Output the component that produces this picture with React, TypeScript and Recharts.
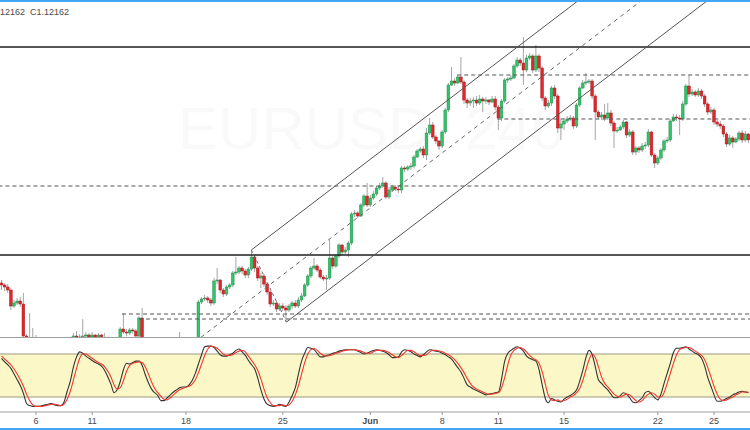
import { ComposedChart, Bar, Line, XAxis, YAxis, ReferenceLine, ReferenceArea } from "recharts";

// EURUSD 4h candles, open = previous close
const firstOpen = 1.093;

const closes = [
  1.0926, 1.0922, 1.0916, 1.0884, 1.089, 1.0894, 1.0888, 1.0824, 1.0816, 1.0796,
  1.0792, 1.0806, 1.0796, 1.0786, 1.0776, 1.0772, 1.078, 1.0784, 1.0792, 1.0796,
  1.08, 1.0806, 1.0812, 1.0824, 1.0822, 1.0818, 1.0824, 1.0826, 1.0822, 1.0826,
  1.0822, 1.0826, 1.082, 1.0812, 1.08, 1.0792, 1.0796, 1.0816, 1.0838, 1.0832,
  1.083, 1.0836, 1.0834, 1.0824, 1.086, 1.0816, 1.0796, 1.078, 1.0772, 1.0766,
  1.0776, 1.0784, 1.078, 1.0792, 1.08, 1.0796, 1.0804, 1.0812, 1.0806, 1.08,
  1.0804, 1.0808, 1.0806, 1.0892, 1.0898, 1.09, 1.0896, 1.089, 1.0934, 1.0936,
  1.0916, 1.0908, 1.0922, 1.0926, 1.095, 1.0952, 1.096, 1.0954, 1.0946, 1.0958,
  1.0982, 1.096, 1.094, 1.0944, 1.0928, 1.0912, 1.0888, 1.089, 1.0878, 1.0884,
  1.088, 1.0876, 1.0884, 1.089, 1.0884, 1.0896, 1.0904, 1.0926, 1.0944, 1.096,
  1.0964, 1.0956, 1.0942, 1.0938, 1.094, 1.098, 1.0964, 1.0984, 1.1006, 1.0992,
  1.0996, 1.101, 1.1068, 1.107, 1.1064, 1.1086, 1.1104, 1.1086, 1.11, 1.1108,
  1.112, 1.1124, 1.113, 1.1102, 1.1116, 1.1122, 1.1118, 1.1116, 1.116, 1.1158,
  1.1162, 1.1164, 1.1182, 1.1194, 1.1198, 1.1186, 1.123, 1.1246, 1.1222, 1.1214,
  1.1204, 1.1232, 1.1276, 1.1326, 1.1334, 1.133, 1.1342, 1.1332, 1.1296, 1.129,
  1.1294, 1.1296, 1.129, 1.1298, 1.1294, 1.1296, 1.1292, 1.1298, 1.1282, 1.126,
  1.1294, 1.1336, 1.1338, 1.134, 1.1364, 1.1376, 1.137, 1.1356, 1.138, 1.1384,
  1.1356, 1.1384, 1.136, 1.13, 1.1284, 1.129, 1.132, 1.1304, 1.124, 1.1248,
  1.1254, 1.1258, 1.126, 1.1244, 1.1286, 1.132, 1.133, 1.1332, 1.1334, 1.1304,
  1.1272, 1.1262, 1.1266, 1.126, 1.127, 1.125, 1.1234, 1.1236, 1.1242, 1.1252,
  1.1226, 1.1232, 1.1192, 1.12, 1.1196, 1.1204, 1.1206, 1.1232, 1.1186, 1.117,
  1.118, 1.1196, 1.1214, 1.1216, 1.1254, 1.1262, 1.126, 1.1258, 1.1288, 1.1324,
  1.1308, 1.1312, 1.1306, 1.1314, 1.1304, 1.1288, 1.1272, 1.1276, 1.1252, 1.1248,
  1.1244, 1.1228, 1.1208, 1.122, 1.1212, 1.1218, 1.123, 1.1216, 1.1228, 1.12162,
];

const highs = [
  1.0936, 1.093, 1.0928, 1.092, 1.0896, 1.09, 1.0902, 1.091, 1.0828, 1.087,
  1.084, 1.0826, 1.082, 1.0806, 1.0796, 1.0786, 1.0792, 1.0796, 1.0802, 1.0806,
  1.0812, 1.0816, 1.082, 1.083, 1.0834, 1.0828, 1.0858, 1.0832, 1.083, 1.0832,
  1.0828, 1.083, 1.0828, 1.083, 1.0816, 1.0806, 1.0804, 1.0822, 1.0842, 1.087,
  1.0838, 1.084, 1.084, 1.0838, 1.0864, 1.088, 1.082, 1.08, 1.0786, 1.078,
  1.0784, 1.0792, 1.0792, 1.0798, 1.0808, 1.0806, 1.0812, 1.0832, 1.0816, 1.081,
  1.0812, 1.0816, 1.0814, 1.0896, 1.0902, 1.0906, 1.0904, 1.09, 1.094, 1.096,
  1.0938, 1.092, 1.0926, 1.093, 1.0954, 1.0982, 1.0964, 1.0964, 1.0958, 1.0962,
  1.0996, 1.0986, 1.0964, 1.095, 1.0948, 1.0932, 1.0916, 1.0896, 1.0894, 1.089,
  1.089, 1.0886, 1.0888, 1.0894, 1.0896, 1.0902, 1.091, 1.093, 1.0948, 1.0964,
  1.098, 1.0968, 1.096, 1.0946, 1.0946, 1.1016, 1.0986, 1.0988, 1.101, 1.1008,
  1.1002, 1.1014, 1.1072, 1.1076, 1.1074, 1.109, 1.1108, 1.113, 1.1106, 1.1114,
  1.1124, 1.113, 1.1142, 1.1134, 1.1122, 1.1126, 1.1126, 1.1124, 1.1164, 1.1164,
  1.1166, 1.117, 1.1186, 1.1198, 1.1202, 1.1204, 1.124, 1.126, 1.1252, 1.1226,
  1.1216, 1.1236, 1.128, 1.133, 1.1362, 1.134, 1.1346, 1.1382, 1.1336, 1.13,
  1.13, 1.1302, 1.1304, 1.1306, 1.1302, 1.1302, 1.1298, 1.1304, 1.1304, 1.1286,
  1.1298, 1.134, 1.1342, 1.1346, 1.1368, 1.1382, 1.138, 1.1422, 1.1386, 1.139,
  1.1388, 1.1406, 1.1388, 1.1364, 1.1304, 1.1296, 1.1324, 1.1326, 1.1308, 1.1256,
  1.126, 1.1264, 1.1266, 1.1264, 1.129, 1.1324, 1.1336, 1.135, 1.1338, 1.1338,
  1.1308, 1.1276, 1.1272, 1.1288, 1.129, 1.1276, 1.1254, 1.1242, 1.1246, 1.1256,
  1.1254, 1.1238, 1.1236, 1.1204, 1.1204, 1.121, 1.1212, 1.1238, 1.1234, 1.119,
  1.1184, 1.12, 1.1218, 1.1222, 1.1258, 1.1268, 1.1268, 1.1266, 1.1294, 1.1328,
  1.1346, 1.1318, 1.1316, 1.132, 1.1318, 1.1308, 1.1292, 1.1282, 1.128, 1.1256,
  1.1254, 1.1248, 1.1232, 1.1226, 1.1224, 1.1222, 1.1234, 1.1236, 1.1234, 1.123,
];

const lows = [
  1.0916, 1.0914, 1.091, 1.0876, 1.088, 1.0886, 1.0882, 1.082, 1.0804, 1.0788,
  1.0782, 1.0784, 1.0786, 1.0778, 1.0768, 1.0764, 1.0766, 1.0774, 1.0778, 1.0784,
  1.0788, 1.0794, 1.08, 1.0806, 1.0814, 1.081, 1.0812, 1.0816, 1.0814, 1.0816,
  1.0812, 1.0816, 1.081, 1.0802, 1.0792, 1.0782, 1.0784, 1.0792, 1.0812, 1.0828,
  1.0824, 1.0826, 1.0828, 1.0818, 1.0816, 1.081, 1.0788, 1.0772, 1.0762, 1.0758,
  1.076, 1.077, 1.0772, 1.0776, 1.0786, 1.0788, 1.0792, 1.0798, 1.0796, 1.0792,
  1.0794, 1.0796, 1.0798, 1.0802, 1.0888, 1.0894, 1.089, 1.0884, 1.0886, 1.0928,
  1.091, 1.0902, 1.0904, 1.0918, 1.0922, 1.0946, 1.0948, 1.0948, 1.094, 1.094,
  1.0954, 1.0952, 1.0934, 1.092, 1.0922, 1.0906, 1.0882, 1.0884, 1.0872, 1.0874,
  1.0874, 1.0852, 1.0872, 1.0878, 1.088, 1.088, 1.0892, 1.0902, 1.0922, 1.094,
  1.0956, 1.0952, 1.0938, 1.0934, 1.0916, 1.0936, 1.0958, 1.096, 1.098, 1.0986,
  1.0988, 1.0982, 1.1006, 1.1062, 1.106, 1.1062, 1.1082, 1.1082, 1.1082, 1.1096,
  1.1104, 1.1116, 1.112, 1.1098, 1.1098, 1.1112, 1.1114, 1.111, 1.111, 1.1152,
  1.1154, 1.1156, 1.116, 1.118, 1.119, 1.118, 1.1176, 1.1226, 1.1218, 1.1208,
  1.1196, 1.12, 1.1228, 1.1272, 1.1324, 1.1324, 1.1328, 1.1328, 1.1288, 1.128,
  1.1284, 1.128, 1.1284, 1.1286, 1.1272, 1.1288, 1.1286, 1.129, 1.1276, 1.1236,
  1.1254, 1.129, 1.133, 1.1334, 1.1338, 1.136, 1.1364, 1.1326, 1.1352, 1.1376,
  1.135, 1.1352, 1.1352, 1.1294, 1.1276, 1.128, 1.1284, 1.1298, 1.123, 1.1216,
  1.1236, 1.125, 1.1254, 1.1238, 1.124, 1.1282, 1.1318, 1.1326, 1.1328, 1.1298,
  1.1216, 1.1258, 1.1256, 1.1254, 1.1256, 1.1244, 1.12, 1.123, 1.1234, 1.1238,
  1.122, 1.1222, 1.1186, 1.1186, 1.119, 1.1192, 1.1198, 1.1202, 1.1182, 1.116,
  1.1166, 1.1176, 1.1192, 1.121, 1.1212, 1.1252, 1.1254, 1.1226, 1.1254, 1.1284,
  1.1302, 1.1304, 1.1302, 1.1302, 1.1298, 1.1282, 1.1266, 1.1268, 1.1246, 1.1242,
  1.1238, 1.1222, 1.1202, 1.1204, 1.12, 1.121, 1.1214, 1.121, 1.1212, 1.121,
];

// Stochastic %K (black) and %D (red)
const stochK = [
  74, 69, 65, 60, 52, 44, 36, 25, 11, 8,
  7, 7, 7, 8, 9, 10, 11, 9, 8, 8,
  13, 28, 42, 62, 76, 83, 81, 77, 74, 71,
  68, 66, 63, 57, 48, 38, 26, 30, 42, 58,
  67, 66, 68, 70, 70, 64, 51, 40, 31, 26,
  22, 15, 15, 19, 23, 27, 30, 33, 34, 34,
  37, 43, 53, 66, 79, 90, 91, 91, 89, 84,
  79, 77, 77, 79, 81, 85, 87, 83, 78, 71,
  65, 59, 46, 30, 17, 10, 8, 7, 8, 10,
  8, 7, 13, 22, 33, 52, 70, 81, 89, 88,
  86, 81, 76, 76, 78, 79, 81, 82, 84, 85,
  86, 86, 86, 86, 84, 82, 80, 81, 83, 85,
  86, 85, 84, 82, 79, 75, 75, 76, 83, 86,
  85, 83, 80, 78, 76, 79, 83, 86, 85, 84,
  83, 81, 79, 76, 73, 67, 61, 55, 46, 37,
  34, 31, 29, 27, 25, 23, 24, 25, 26, 27,
  45, 70, 81, 85, 88, 90, 88, 84, 77, 74,
  72, 70, 58, 37, 18, 12, 18, 16, 14, 13,
  17, 20, 22, 25, 30, 42, 57, 75, 85, 79,
  62, 44, 39, 34, 30, 24, 19, 19, 22, 26,
  24, 19, 13, 12, 15, 19, 26, 28, 24, 19,
  16, 24, 39, 53, 67, 82, 88, 88, 89, 90,
  87, 84, 81, 79, 74, 63, 47, 35, 23, 14,
  14, 16, 18, 20, 23, 25, 27, 28, 27, 26,
];

const stochD = [
  77, 73, 69, 65, 59, 52, 44, 35, 24, 15,
  9, 7, 7, 7, 8, 9, 10, 10, 9, 8,
  10, 17, 28, 44, 60, 74, 80, 80, 77, 74,
  71, 68, 66, 62, 56, 48, 37, 31, 33, 43,
  56, 64, 67, 68, 69, 68, 62, 52, 41, 32,
  26, 21, 17, 16, 19, 23, 27, 30, 32, 34,
  35, 38, 44, 54, 66, 78, 87, 91, 90, 88,
  84, 80, 78, 78, 79, 82, 84, 85, 83, 77,
  71, 65, 57, 45, 31, 19, 12, 8, 8, 8,
  9, 8, 9, 14, 23, 36, 52, 68, 80, 86,
  88, 85, 81, 78, 77, 78, 79, 81, 82, 84,
  85, 86, 86, 86, 85, 84, 82, 81, 81, 83,
  85, 85, 85, 84, 82, 79, 76, 75, 78, 82,
  85, 85, 83, 80, 78, 78, 79, 83, 85, 85,
  84, 83, 81, 79, 76, 72, 67, 61, 54, 46,
  39, 34, 31, 29, 27, 25, 24, 24, 25, 26,
  33, 47, 65, 79, 85, 88, 89, 87, 83, 78,
  74, 72, 67, 55, 38, 22, 16, 15, 16, 14,
  15, 17, 20, 22, 26, 32, 43, 58, 72, 80,
  75, 62, 48, 39, 34, 29, 24, 21, 20, 22,
  24, 23, 19, 15, 13, 15, 20, 24, 26, 24,
  20, 20, 26, 39, 53, 67, 79, 86, 88, 89,
  89, 87, 84, 81, 78, 72, 61, 48, 35, 24,
  17, 15, 16, 18, 20, 23, 25, 27, 27, 27,
];

const tickIdx = [11, 29, 59, 90, 118, 141, 159, 180, 210, 228];
const tickLabels = ["6", "11", "18", "25", "Jun", "8", "11", "15", "22", "25"];

// drawings (bar index, price)
const solidLevels = [1.1402, 1.0986];
const dashStart = [145.7, 158.5, -0.5, 38.9, 44.3];
const dashPrice = [1.1346, 1.1258, 1.1124, 1.0868, 1.0858];
const channelUpper = [[80.1, 1.0996], [243, 1.1776]];
const channelMid = [[60, 1.0802], [243, 1.168]];
const channelLower = [[91.3, 1.0852], [243, 1.1579]];
const channelLink = [[80.1, 1.0996], [91.3, 1.0852]];

const lastIdx = closes.length - 0.5;

const Candle = (props: any) => {
  const { x, y, width, height, payload } = props;
  if (x == null || y == null) return null;
  const { o, h, l, c } = payload;
  const k = h > l ? height / (h - l) : 0;
  const cx = x + width / 2;
  const yo = y + (h - o) * k;
  const yc = y + (h - c) * k;
  const up = c >= o;
  const top = Math.min(yo, yc);
  const bh = Math.max(Math.abs(yc - yo), 1);
  return (
    <g>
      <line x1={cx} x2={cx} y1={y} y2={y + height} stroke="#a5a5a5" strokeWidth={1} />
      <rect
        x={cx - 1.35}
        y={top}
        width={2.7}
        height={bh}
        fill={up ? "#33c26a" : "#e3262b"}
        stroke={up ? "#22914c" : "#a91b1f"}
        strokeWidth={0.5}
      />
    </g>
  );
};

const seg = (pts: number[][]) => pts.map((p) => ({ x: p[0], y: p[1] }));

const DateTick = (props: any) => {
  const { x, y, payload } = props;
  const label = tickLabels[tickIdx.indexOf(payload.value)];
  return (
    <text
      x={x}
      y={y}
      dy="0.71em"
      textAnchor="middle"
      fontSize={9}
      fill="#4a4a4a"
      fontWeight={label === "Jun" ? 700 : 400}
    >
      {label}
    </text>
  );
};

export default function App() {
  const data = closes.map((c, i) => {
    const o = i === 0 ? firstOpen : closes[i - 1];
    const h = Math.max(highs[i], o, c);
    const l = Math.min(lows[i], o, c);
    return { i, o, h, l, c, range: [l, h] };
  });
  const stoch = stochK.map((k, i) => ({ i, k, d: stochD[i] }));

  return (
    <div
      style={{
        position: "relative",
        width: 750,
        height: 430,
        background: "#fff",
        overflow: "hidden",
        fontFamily: "'Liberation Sans', Arial, sans-serif",
      }}
    >
      <style>{`body{margin:0}`}</style>

      {/* watermark */}
      <div style={{ position: "absolute", left: 178, top: 94, fontSize: 60, color: "rgba(0,0,0,0.022)", whiteSpace: "nowrap" }}>
        EURUSD, 240
      </div>
      <div style={{ position: "absolute", left: 222, top: 192, fontSize: 28, color: "rgba(0,0,0,0.022)", whiteSpace: "nowrap" }}>
        Euro / U.S. Dollar
      </div>

      <div style={{ position: "absolute", left: 0, top: 0 }}>
        <ComposedChart width={750} height={337} data={data} margin={{ top: 0, right: 0, bottom: 0, left: 0 }}>
          <XAxis xAxisId="c" dataKey="i" type="category" hide />
          <XAxis xAxisId="n" type="number" domain={[-0.5, lastIdx]} allowDataOverflow hide />
          <YAxis yAxisId="p" domain={[1.0822, 1.1496]} allowDataOverflow hide />
          <Bar xAxisId="c" yAxisId="p" dataKey="range" barSize={3} shape={Candle} isAnimationActive={false} />
          {solidLevels.map((p) => (
            <ReferenceLine key={p} xAxisId="n" yAxisId="p" y={p} stroke="#1e1e1e" strokeWidth={1.6} ifOverflow="hidden" />
          ))}
          {dashPrice.map((p, j) => (
            <ReferenceLine
              key={p}
              xAxisId="n"
              yAxisId="p"
              segment={[{ x: dashStart[j], y: p }, { x: lastIdx, y: p }]}
              stroke="#555"
              strokeDasharray="4 3"
              ifOverflow="hidden"
            />
          ))}
          <ReferenceLine xAxisId="n" yAxisId="p" segment={seg(channelUpper)} stroke="#555" ifOverflow="hidden" />
          <ReferenceLine xAxisId="n" yAxisId="p" segment={seg(channelLower)} stroke="#555" ifOverflow="hidden" />
          <ReferenceLine xAxisId="n" yAxisId="p" segment={seg(channelMid)} stroke="#666" strokeDasharray="4 4" ifOverflow="hidden" />
          <ReferenceLine xAxisId="n" yAxisId="p" segment={seg(channelLink)} stroke="#666" strokeDasharray="3 3" ifOverflow="hidden" />
        </ComposedChart>
      </div>

      {/* legend */}
      <div style={{ position: "absolute", left: 0, top: 7, fontSize: 9, color: "#4a4a4a", whiteSpace: "pre" }}>
        {"12162  C1.12162"}
      </div>

      <div style={{ position: "absolute", left: 0, top: 337, width: 750, height: 1, background: "#a0a0a0" }} />

      <div style={{ position: "absolute", left: 0, top: 338 }}>
        <ComposedChart width={750} height={92} data={stoch} margin={{ top: 0, right: 0, bottom: 0, left: 0 }}>
          <XAxis
            dataKey="i"
            type="number"
            domain={[-0.5, lastIdx]}
            allowDataOverflow
            ticks={tickIdx}
            interval={0}
            height={18}
            tick={<DateTick />}
            tickSize={3}
            tickMargin={3}
            tickLine={{ stroke: "#999" }}
            axisLine={{ stroke: "#a0a0a0" }}
          />
          <YAxis domain={[-0.9, 102.3]} allowDataOverflow hide />
          <ReferenceArea y1={20} y2={80} fill="#fcf7c6" fillOpacity={1} stroke="none" />
          <ReferenceLine y={80} stroke="#9d9a80" />
          <ReferenceLine y={20} stroke="#9d9a80" />
          <Line dataKey="k" type="monotone" stroke="#333" strokeWidth={1.1} dot={false} isAnimationActive={false} />
          <Line dataKey="d" type="monotone" stroke="#f2382e" strokeWidth={1.1} dot={false} isAnimationActive={false} />
        </ComposedChart>
      </div>

      <div style={{ position: "absolute", left: 0, top: 0, width: 750, height: 2, background: "#42a5f5" }} />
      <div style={{ position: "absolute", left: 0, top: 428, width: 750, height: 2, background: "#42a5f5" }} />
    </div>
  );
}
